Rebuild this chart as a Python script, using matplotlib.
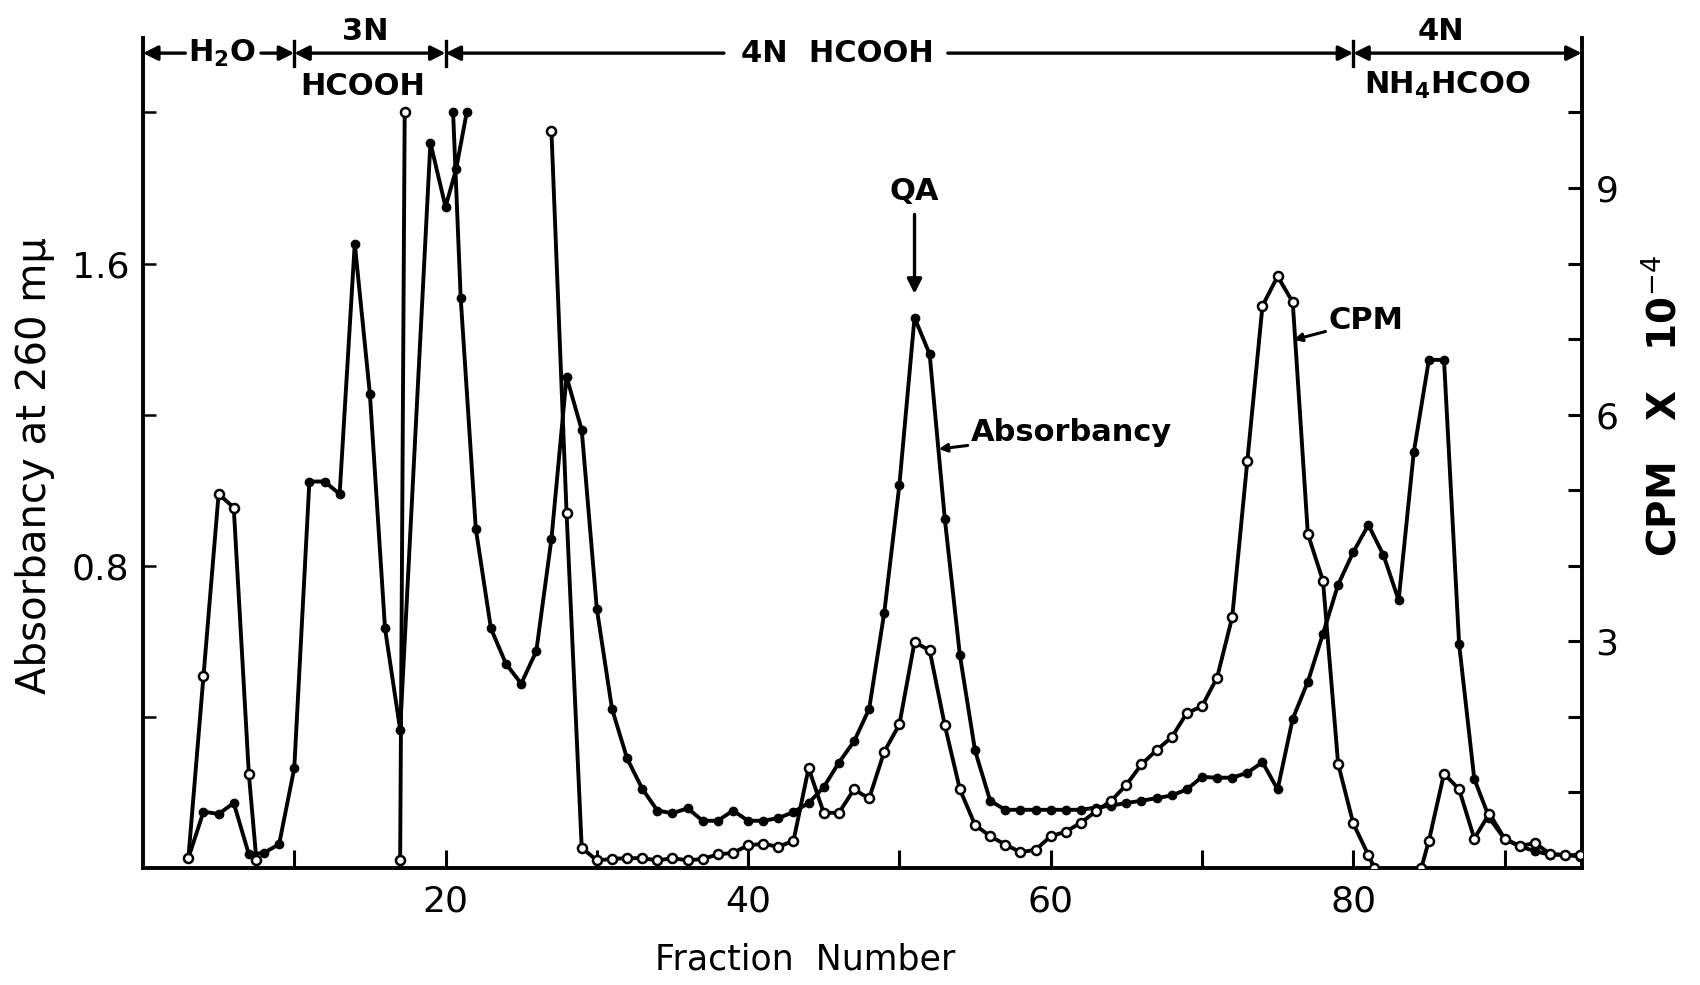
import matplotlib
matplotlib.use('Agg')
import matplotlib.pyplot as plt

nan = float('nan')

# Absorbancy at 260 mu (left axis), filled markers
abs_fraction = [3, 4, 5, 6, 7, 8, 9, 10, 11, 12, 13, 14, 15, 16, 17, 19, 20, 20.7, 21.4, nan,
                20.5, 21, 22, 23, 24, 25, 26, 27, 28, 29, 30, 31, 32, 33, 34, 35, 36, 37, 38,
                39, 40, 41, 42, 43, 44, 45, 46, 47, 48, 49, 50, 51, 52, 53, 54, 55, 56, 57,
                58, 59, 60, 61, 62, 63, 64, 65, 66, 67, 68, 69, 70, 71, 72, 73, 74, 75, 76,
                77, 78, 79, 80, 81, 82, 83, 84, 85, 86, 87, 88, 89, 90, 91, 92, 93, 94, 95]
absorbancy = [0.026, 0.149, 0.143, 0.172, 0.036, 0.040, 0.063, 0.264, 1.023, 1.023, 0.990,
              1.653, 1.254, 0.634, 0.366, 1.920, 1.750, 1.850, 2.0, nan,
              2.0, 1.510, 0.898, 0.634, 0.540, 0.488, 0.574, 0.871, 1.300, 1.160, 0.686,
              0.422, 0.290, 0.210, 0.152, 0.145, 0.158, 0.125, 0.125, 0.152, 0.125, 0.125,
              0.132, 0.148, 0.172, 0.214, 0.279, 0.335, 0.421, 0.676, 1.014, 1.457, 1.360,
              0.925, 0.563, 0.311, 0.178, 0.154, 0.154, 0.154, 0.154, 0.154, 0.154, 0.160,
              0.165, 0.172, 0.178, 0.185, 0.192, 0.208, 0.241, 0.239, 0.239, 0.252, 0.280,
              0.208, 0.395, 0.493, 0.620, 0.750, 0.836, 0.908, 0.828, 0.709, 1.100, 1.345,
              1.345, 0.592, 0.236, 0.132, 0.077, 0.057, 0.045, 0.035, 0.035, 0.030]

# CPM x 10^-4 (right axis), open markers
cpm_fraction = [3, 4, 5, 6, 7, 7.5, nan, 17, 17.3, nan, 27, 28, 29, 30, 31, 32, 33,
                34, 35, 36, 37, 38, 39, 40, 41, 42, 43, 44, 45, 46, 47, 48, 49, 50, 51, 52,
                53, 54, 55, 56, 57, 58, 59, 60, 61, 62, 63, 64, 65, 66, 67, 68, 69, 70, 71,
                72, 73, 74, 75, 76, 77, 78, 79, 80, 81, 81.4, nan, 84.5, 85, 86, 87, 88, 89,
                90, 91, 92, 93, 94, 95]
cpm = [0.13, 2.54, 4.95, 4.77, 1.24, 0.10, nan, 0.10, 10.0, nan, 9.75, 4.70, 0.27,
       0.10, 0.12, 0.13, 0.13, 0.10, 0.13, 0.10, 0.12, 0.18, 0.20, 0.30, 0.32, 0.28, 0.36,
       1.32, 0.73, 0.73, 1.04, 0.92, 1.54, 1.90, 2.99, 2.88, 1.89, 1.04, 0.57, 0.42, 0.31,
       0.21, 0.24, 0.42, 0.48, 0.60, 0.75, 0.89, 1.10, 1.37, 1.56, 1.73, 2.05, 2.14, 2.52,
       3.32, 5.39, 7.44, 7.83, 7.49, 4.42, 3.80, 1.38, 0.59, 0.17, 0.0, nan, 0.0, 0.36,
       1.25, 1.04, 0.39, 0.72, 0.39, 0.29, 0.33, 0.19, 0.17, 0.17]

x_ticks = [10, 20, 30, 40, 50, 60, 70, 80, 90]
x_labels = ['', '20', '', '40', '', '60', '', '80', '']
left_ticks = [0.4, 0.8, 1.2, 1.6, 2.0]
left_labels = ['', '0.8', '', '1.6', '']
right_ticks = [1, 2, 3, 4, 5, 6, 7, 8, 9, 10]
right_labels = ['', '', '3', '', '', '6', '', '', '9', '']

plt.rcParams['font.family'] = ['DejaVu Sans']

fig = plt.figure(figsize=(17, 9.85), dpi=100)
ax = fig.add_axes([0.0841, 0.1188, 0.8463, 0.8426])
ax.set_xlim(0, 95.1)
ax.set_ylim(0, 2.197)
ax2 = ax.twinx()
ax2.set_ylim(0, 2.197 * 5)

for a in (ax, ax2):
    a.spines['top'].set_visible(False)
    for s in ('left', 'right', 'bottom'):
        a.spines[s].set_linewidth(2.8)
ax.spines['right'].set_visible(False)
ax2.spines['left'].set_visible(False)
ax2.spines['bottom'].set_visible(False)

ax.set_xticks(x_ticks)
ax.set_xticklabels(x_labels)
ax.set_yticks(left_ticks)
ax.set_yticklabels(left_labels)
ax2.set_yticks(right_ticks)
ax2.set_yticklabels(right_labels)
ax.tick_params(axis='x', direction='in', length=13, width=2.2, pad=12, labelsize=26)
ax.tick_params(axis='y', direction='in', length=9, width=1.8, pad=10, labelsize=26)
ax2.tick_params(axis='y', direction='in', length=10, width=2.2, pad=10, labelsize=26)

ax.plot(abs_fraction, absorbancy, color='black', lw=2.8, marker='o', ms=6,
        mfc='black', mec='black', zorder=3)
ax2.plot(cpm_fraction, cpm, color='black', lw=2.8, marker='o', ms=6.5,
         mfc='white', mec='black', mew=1.8, zorder=3)

# header with solvent segments
yh = 2.157
arr = dict(arrowstyle='-|>', lw=2.4, color='black', mutation_scale=22,
           shrinkA=0, shrinkB=0)
darr = dict(arrowstyle='<|-|>', lw=2.4, color='black', mutation_scale=22,
            shrinkA=0, shrinkB=0)
kw = dict(annotation_clip=False)
ax.annotate('', xy=(0, yh), xytext=(2.8, yh), arrowprops=arr, **kw)
ax.annotate('', xy=(10, yh), xytext=(7.8, yh), arrowprops=arr, **kw)
ax.annotate('', xy=(10, yh), xytext=(20, yh), arrowprops=darr, **kw)
ax.annotate('', xy=(20, yh), xytext=(38.4, yh), arrowprops=arr, **kw)
ax.annotate('', xy=(80, yh), xytext=(53.2, yh), arrowprops=arr, **kw)
ax.annotate('', xy=(80, yh), xytext=(95.1, yh), arrowprops=darr, **kw)
for xb in (10, 20, 80):
    ax.plot([xb, xb], [2.122, 2.19], color='black', lw=2.4, clip_on=False)

hfs = 22
ax.text(5.2, yh, r'H$_\mathbf{2}$O', ha='center', va='center', fontsize=hfs,
        fontweight='bold')
ax.text(14.7, 2.213, '3N', ha='center', va='center', fontsize=hfs, fontweight='bold',
        clip_on=False)
ax.text(14.5, 2.068, 'HCOOH', ha='center', va='center', fontsize=hfs, fontweight='bold')
ax.text(45.9, yh, '4N  HCOOH', ha='center', va='center', fontsize=hfs, fontweight='bold')
ax.text(85.8, 2.213, '4N', ha='center', va='center', fontsize=hfs, fontweight='bold',
        clip_on=False)
ax.text(86.2, 2.071, r'NH$_\mathbf{4}$HCOO', ha='center', va='center', fontsize=hfs,
        fontweight='bold')

# QA marker
ax.text(51, 1.79, 'QA', ha='center', va='center', fontsize=22, fontweight='bold')
ax.annotate('', xy=(51, 1.52), xytext=(51, 1.73),
            arrowprops=dict(arrowstyle='-|>', lw=2.4, color='black', mutation_scale=22,
                            shrinkA=0, shrinkB=0))

# curve labels
small = dict(arrowstyle='-|>', lw=2.2, color='black', mutation_scale=12,
             shrinkA=0, shrinkB=0)
ax.annotate('Absorbancy', xy=(52.6, 1.109), xytext=(54.7, 1.152), fontsize=22,
            fontweight='bold', va='center', ha='left', arrowprops=small)
ax.annotate('CPM', xy=(76.05, 1.398), xytext=(78.35, 1.448), fontsize=22,
            fontweight='bold', va='center', ha='left', arrowprops=small)

fig.text(805 / 1700, 1 - 960 / 985, 'Fraction  Number', ha='center', va='center',
         fontsize=25)
fig.text(35 / 1700, 1 - 466 / 985, 'Absorbancy at 260 m\u03bc', ha='center',
         va='center', rotation=90, fontsize=29)
fig.text(1664 / 1700, 1 - 406 / 985, r'CPM   X   10$^{-4}$', ha='center', va='center',
         rotation=90, fontsize=28, fontweight='bold')

fig.savefig('out.png', dpi=100)
